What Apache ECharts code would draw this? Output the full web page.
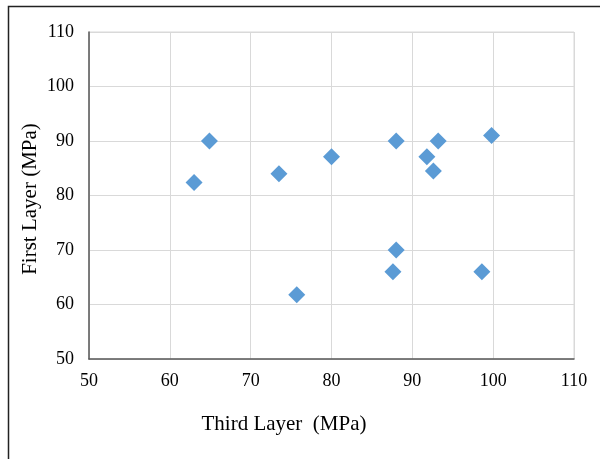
<!DOCTYPE html>
<html><head><meta charset="utf-8">
<script src="https://cdn.jsdelivr.net/npm/echarts@6/dist/echarts.min.js"></script>
<style>html,body{margin:0;padding:0;background:#fff}#c{width:600px;height:459px}</style>
</head><body><div id="c"></div>
<script>
const thirdLayer = [64.9, 63.0, 73.5, 80.0, 75.7, 88.0, 93.2, 91.8, 92.6, 99.8, 88.0, 87.6, 98.6];
const firstLayer = [90.0, 82.4, 84.0, 87.1, 61.8, 90.0, 90.0, 87.1, 84.5, 91.0, 70.0, 66.0, 66.0];
const xTicks = [50, 60, 70, 80, 90, 100, 110];
const yTicks = [50, 60, 70, 80, 90, 100, 110];
const xTitle = 'Third Layer  (MPa)';
const yTitle = 'First Layer (MPa)';

const font = '"Liberation Serif", "Times New Roman", serif';
const chart = echarts.init(document.getElementById('c'), null, {renderer: 'canvas'});
chart.setOption({
  animation: false,
  backgroundColor: '#fff',
  grid: {left: 89, top: 32, width: 485, height: 327, containLabel: false,
         show: true, borderColor: '#d9d9d9', borderWidth: 1},
  xAxis: {
    type: 'value', min: xTicks[0], max: xTicks[xTicks.length - 1], interval: 10,
    axisLine: {show: true, onZero: false, lineStyle: {color: '#595959', width: 1.5}},
    axisTick: {show: false},
    splitLine: {show: true, lineStyle: {color: '#d9d9d9', width: 1}},
    axisLabel: {color: '#000', fontFamily: font, fontSize: 18, margin: 13}
  },
  yAxis: {
    type: 'value', min: yTicks[0], max: yTicks[yTicks.length - 1], interval: 10,
    axisLine: {show: true, onZero: false, lineStyle: {color: '#595959', width: 1.5}},
    axisTick: {show: false},
    splitLine: {show: true, lineStyle: {color: '#d9d9d9', width: 1}},
    axisLabel: {color: '#000', fontFamily: font, fontSize: 18, margin: 15}
  },
  series: [{
    type: 'scatter',
    data: thirdLayer.map((x, i) => [x, firstLayer[i]]),
    symbol: 'diamond',
    symbolSize: 17,
    itemStyle: {color: '#5b9bd5', opacity: 1}
  }],
  graphic: [
    {type: 'rect', silent: true, z: -1,
     shape: {x: 8.5, y: 6.5, width: 600, height: 460},
     style: {fill: 'none', stroke: '#222', lineWidth: 1.5}},
    {type: 'text', x: 284, y: 424,
     style: {text: xTitle, font: '21px ' + font, fill: '#000', textAlign: 'center', textVerticalAlign: 'middle'}},
    {type: 'text', x: 30, y: 199, rotation: Math.PI / 2,
     style: {text: yTitle, font: '21px ' + font, fill: '#000', textAlign: 'center', textVerticalAlign: 'middle'}}
  ]
});
</script>
</body></html>
